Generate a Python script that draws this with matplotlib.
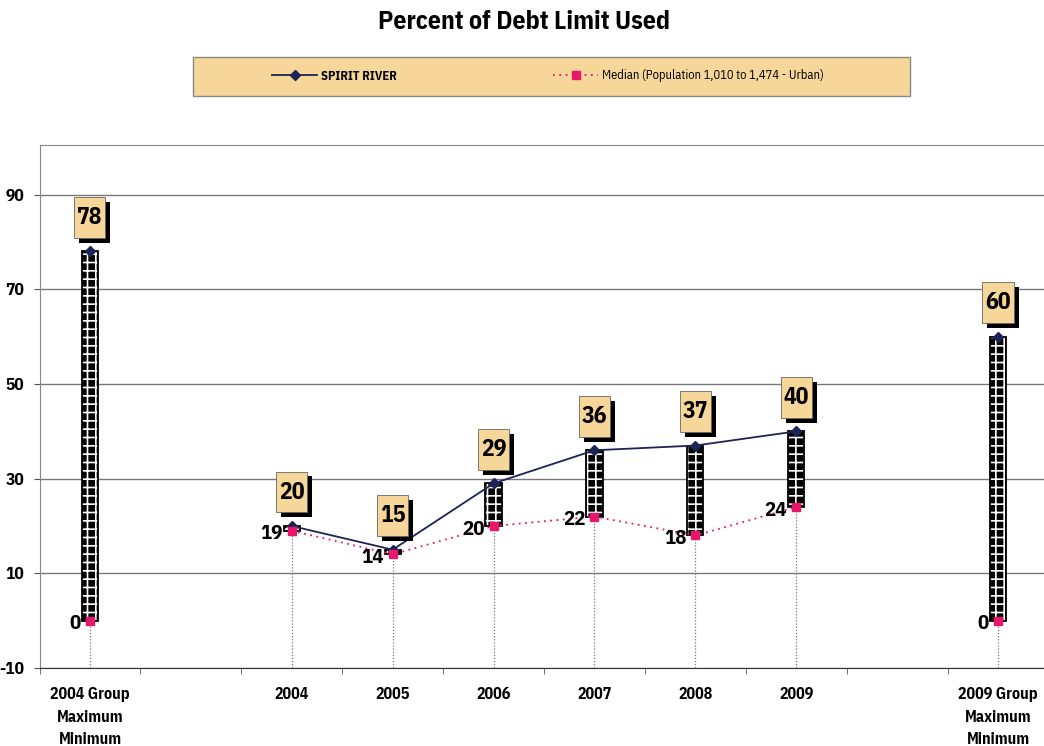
import numpy as np
import matplotlib
matplotlib.use("Agg")
import matplotlib.pyplot as plt
from matplotlib.patches import Rectangle
from matplotlib.lines import Line2D
from matplotlib.path import Path
import matplotlib.patheffects as pe

plt.rcParams['font.family'] = ['IBM Plex Sans Condensed', 'DejaVu Sans']
plt.rcParams['hatch.linewidth'] = 1.2
plt.rcParams['axes.unicode_minus'] = False

# ---- data ----
categories = ["2004 Group\nMaximum\nMinimum", "", "2004", "2005", "2006",
              "2007", "2008", "2009", "", "2009 Group\nMaximum\nMinimum"]
spirit_river = [78, np.nan, 20, 15, 29, 36, 37, 40, np.nan, 60]
median_vals = [0, np.nan, 19, 14, 20, 22, 18, 24, np.nan, 0]
yticks = [-10, 10, 30, 50, 70, 90]
title = "Percent of Debt Limit Used"
legend_labels = ["SPIRIT RIVER", "Median (Population 1,010 to 1,474 - Urban)"]

navy = "#1c2457"
pink = "#e8176b"
tan = "#f6d699"


def tall_box(x0, y0, width, height, mutation_size):
    px = 0.12 * mutation_size
    py = 0.38 * mutation_size
    a, b = x0 - px, y0 - py
    c, d = x0 + width + px, y0 + height + py
    return Path([(a, b), (c, b), (c, d), (a, d), (a, b)], closed=True)


fig = plt.figure(figsize=(10.44, 7.46), dpi=100)
ax = fig.add_axes([39.5 / 1044, 78 / 746, 1009 / 1044, 523 / 746])

x = np.arange(len(categories))
sr = np.array(spirit_river, dtype=float)
md = np.array(median_vals, dtype=float)
valid = ~np.isnan(sr)

lo = np.fmin(sr, md)
hi = np.fmax(sr, md)

# drop lines
ax.vlines(x[valid], -10, lo[valid], colors="#777777", linestyles=(0, (1, 1.5)),
          linewidth=0.9, zorder=2)

# high-low bars (black with white grid)
bw = 0.16
ax.bar(x[valid], (hi - lo)[valid], bottom=lo[valid], width=bw, color="black",
       edgecolor="white", hatch="++", linewidth=0, zorder=3)
ax.bar(x[valid], (hi - lo)[valid], bottom=lo[valid], width=bw, fill=False,
       edgecolor="black", linewidth=1.3, zorder=3)

# lines
ax.plot(x, sr, color=navy, linewidth=1.3, marker="D", markersize=5,
        markerfacecolor=navy, markeredgecolor=navy, zorder=5)
ax.plot(x, md, color=pink, linewidth=1.3, linestyle=(0, (1, 2.5)), marker="s",
        markersize=6, markerfacecolor=pink, markeredgecolor=pink, zorder=5)

# value labels (tan boxes with black drop shadow)
for xi, v in zip(x[valid], sr[valid]):
    t = ax.annotate(f"{v:.0f}", (xi, v), xytext=(0, 34), textcoords="offset pixels",
                    ha="center", va="center", fontsize=17, fontweight="bold",
                    color="black",
                    bbox=dict(boxstyle=tall_box, fc=tan, ec="#666666", lw=0.6),
                    zorder=7)
    t.get_bbox_patch().set_path_effects([
        pe.SimplePatchShadow(offset=(3.5, -3.5), shadow_rgbFace="black", alpha=1.0),
        pe.Normal()])
for xi, v in zip(x[valid], md[valid]):
    ax.annotate(f"{v:.0f}", (xi, v), xytext=(-9, -3), textcoords="offset pixels",
                ha="right", va="center", fontsize=15, fontweight="bold",
                color="black", zorder=6)

# axes styling
ax.set_xlim(-0.5, len(categories) - 0.5)
ax.set_ylim(-10, 100.5)
ax.set_yticks(yticks)
ax.set_yticklabels([str(t) for t in yticks], fontsize=12.5, fontweight="bold")
ax.yaxis.grid(True, color="#777777", linewidth=1.0)
ax.set_axisbelow(True)
ax.set_xticks(x)
ax.set_xticklabels(categories, fontsize=11.5, fontweight="bold", linespacing=1.6)
ax.tick_params(axis="x", length=0, pad=14)
ax.set_xticks(np.arange(-0.5, len(categories), 1.0), minor=True)
ax.tick_params(axis="x", which="minor", length=4, direction="out", color="#555555")
ax.tick_params(axis="y", length=4, color="#555555", pad=7)
for t in ax.get_xticklabels():
    t.set_verticalalignment("top")
ax.spines["top"].set_color("#888888")
ax.spines["left"].set_color("#888888")
ax.spines["bottom"].set_color("#333333")
ax.spines["right"].set_visible(False)

fig.text(524 / 1044, 1 - 22 / 746, title, ha="center", va="center", fontsize=18.5,
         fontweight="bold")

# legend
fig.patches.append(Rectangle((193 / 1044, 1 - 96 / 746), 717 / 1044, 39 / 746,
                             transform=fig.transFigure, facecolor=tan,
                             edgecolor="#888888", linewidth=1.0, zorder=0))
handles = [Line2D([], [], color=navy, linewidth=1.3, marker="D", markersize=5),
           Line2D([], [], color=pink, linewidth=1.3, linestyle=(0, (1, 2.5)),
                  marker="s", markersize=6)]
leg = fig.legend(handles, legend_labels, loc="center",
                 bbox_to_anchor=(548 / 1044, 1 - 76 / 746), ncol=2,
                 frameon=False, fontsize=9, handlelength=3.6,
                 columnspacing=12.5, handletextpad=0.3)
leg.get_texts()[0].set_fontweight("bold")

fig.savefig("out.png", dpi=100)
